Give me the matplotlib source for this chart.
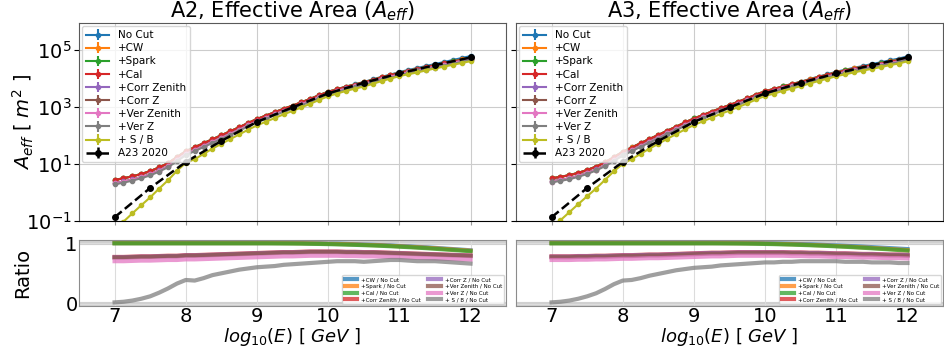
import numpy as np
import matplotlib
matplotlib.use('Agg')
import matplotlib.pyplot as plt

# Data
######

# log10(E / GeV) bins
energy = np.linspace(7.0, 12.0, 41)

# log10 of the No Cut effective area (m^2)
a2_nocut_log = [0.44, 0.50, 0.57, 0.65, 0.75, 0.88, 1.03, 1.24, 1.45, 1.59, 1.73, 1.87, 2.01,
                2.15, 2.29, 2.44, 2.58, 2.70, 2.82, 2.94, 3.05, 3.17, 3.29, 3.42, 3.54, 3.63,
                3.72, 3.80, 3.88, 3.97, 4.06, 4.14, 4.23, 4.30, 4.37, 4.44, 4.51, 4.58, 4.65,
                4.72, 4.79]
a3_nocut_log = [0.50, 0.55, 0.61, 0.69, 0.79, 0.91, 1.06, 1.24, 1.43, 1.58, 1.73, 1.88, 2.02,
                2.17, 2.31, 2.46, 2.60, 2.72, 2.84, 2.96, 3.07, 3.19, 3.31, 3.44, 3.56, 3.64,
                3.73, 3.81, 3.89, 3.98, 4.07, 4.15, 4.24, 4.31, 4.38, 4.44, 4.51, 4.57, 4.64,
                4.70, 4.78]

# A23 2020 reference
a23_energy = [7.0, 7.5, 8.0, 8.5, 9.0, 9.5, 10.0, 10.5, 11.0, 11.5, 12.0]
a23_log = [-0.87, 0.16, 1.07, 1.81, 2.48, 2.99, 3.48, 3.85, 4.18, 4.47, 4.74]

cut_labels = ['+CW', '+Spark', '+Cal', '+Corr Zenith', '+Corr Z', '+Ver Zenith', '+Ver Z', '+ S / B']

# ratios cut / No Cut, panel A2
a2_cw = [1.00, 1.00, 1.00, 1.00, 1.00, 1.00, 1.00, 1.00, 1.00, 1.00, 1.00, 1.00, 1.00, 1.00,
         1.00, 1.00, 1.00, 1.00, 1.00, 1.00, 1.00, 1.00, 0.995, 0.995, 0.99, 0.99, 0.985, 0.98,
         0.975, 0.97, 0.965, 0.96, 0.95, 0.945, 0.935, 0.93, 0.92, 0.91, 0.90, 0.89, 0.88]
a2_spark = [0.998, 0.998, 0.998, 0.998, 0.998, 0.998, 0.998, 0.998, 0.998, 0.998, 0.998, 0.998,
            0.998, 0.998, 0.998, 0.998, 0.998, 0.998, 0.998, 0.997, 0.996, 0.995, 0.993, 0.99,
            0.987, 0.984, 0.98, 0.976, 0.97, 0.965, 0.96, 0.953, 0.945, 0.938, 0.93, 0.922, 0.913,
            0.903, 0.893, 0.883, 0.873]
a2_cal = [0.995, 0.995, 0.995, 0.995, 0.995, 0.995, 0.995, 0.995, 0.995, 0.995, 0.995, 0.995,
          0.995, 0.995, 0.995, 0.995, 0.995, 0.995, 0.994, 0.993, 0.992, 0.99, 0.988, 0.985,
          0.982, 0.978, 0.974, 0.97, 0.965, 0.96, 0.954, 0.947, 0.94, 0.932, 0.924, 0.915, 0.905,
          0.895, 0.885, 0.875, 0.865]
a2_corr_zen = [0.77, 0.77, 0.775, 0.78, 0.78, 0.785, 0.79, 0.79, 0.80, 0.80, 0.805, 0.81, 0.815,
               0.82, 0.825, 0.83, 0.835, 0.84, 0.845, 0.85, 0.85, 0.855, 0.86, 0.86, 0.86, 0.86,
               0.855, 0.855, 0.85, 0.85, 0.845, 0.84, 0.835, 0.83, 0.825, 0.82, 0.815, 0.81,
               0.805, 0.80, 0.795]
a2_corr_z = [0.765, 0.765, 0.77, 0.775, 0.775, 0.78, 0.785, 0.785, 0.795, 0.795, 0.80, 0.805,
             0.81, 0.815, 0.82, 0.825, 0.83, 0.835, 0.84, 0.845, 0.845, 0.85, 0.855, 0.855, 0.855,
             0.855, 0.85, 0.85, 0.845, 0.845, 0.84, 0.835, 0.83, 0.825, 0.82, 0.815, 0.81, 0.805,
             0.80, 0.795, 0.79]
a2_ver_zen = [0.76, 0.76, 0.765, 0.77, 0.77, 0.775, 0.78, 0.78, 0.79, 0.79, 0.795, 0.80, 0.805,
              0.81, 0.815, 0.82, 0.825, 0.83, 0.835, 0.84, 0.84, 0.845, 0.85, 0.85, 0.85, 0.85,
              0.845, 0.845, 0.84, 0.84, 0.835, 0.83, 0.825, 0.82, 0.815, 0.81, 0.805, 0.80,
              0.795, 0.79, 0.785]
a2_ver_z = [0.70, 0.70, 0.705, 0.71, 0.71, 0.715, 0.72, 0.72, 0.73, 0.73, 0.735, 0.74, 0.745,
            0.75, 0.755, 0.76, 0.765, 0.77, 0.775, 0.78, 0.78, 0.785, 0.79, 0.79, 0.79, 0.79,
            0.785, 0.785, 0.78, 0.78, 0.775, 0.77, 0.765, 0.76, 0.755, 0.75, 0.745, 0.74, 0.735,
            0.73, 0.725]
a2_sb = [0.02, 0.03, 0.05, 0.08, 0.12, 0.18, 0.25, 0.33, 0.39, 0.38, 0.42, 0.47, 0.50, 0.53, 0.56,
         0.58, 0.60, 0.61, 0.62, 0.64, 0.65, 0.66, 0.67, 0.68, 0.69, 0.70, 0.70, 0.70, 0.69, 0.70,
         0.71, 0.72, 0.72, 0.71, 0.70, 0.70, 0.70, 0.69, 0.68, 0.67, 0.66]

# ratios cut / No Cut, panel A3
a3_cw = [1.00, 1.00, 1.00, 1.00, 1.00, 1.00, 1.00, 1.00, 1.00, 1.00, 1.00, 1.00, 1.00, 1.00,
         1.00, 1.00, 1.00, 1.00, 1.00, 1.00, 1.00, 1.00, 1.00, 0.998, 0.996, 0.994, 0.99, 0.986,
         0.982, 0.978, 0.972, 0.966, 0.96, 0.954, 0.947, 0.94, 0.932, 0.924, 0.916, 0.908, 0.90]
a3_spark = [0.998, 0.998, 0.998, 0.998, 0.998, 0.998, 0.998, 0.998, 0.998, 0.998, 0.998, 0.998,
            0.998, 0.998, 0.998, 0.998, 0.998, 0.998, 0.998, 0.998, 0.997, 0.996, 0.995, 0.993,
            0.99, 0.987, 0.983, 0.979, 0.974, 0.969, 0.963, 0.957, 0.95, 0.943, 0.935, 0.927,
            0.919, 0.91, 0.901, 0.892, 0.883]
a3_cal = [0.995, 0.995, 0.995, 0.995, 0.995, 0.995, 0.995, 0.995, 0.995, 0.995, 0.995, 0.995,
          0.995, 0.995, 0.995, 0.995, 0.995, 0.995, 0.995, 0.994, 0.993, 0.992, 0.99, 0.988,
          0.985, 0.982, 0.978, 0.974, 0.969, 0.964, 0.958, 0.952, 0.945, 0.938, 0.93, 0.922,
          0.913, 0.904, 0.895, 0.885, 0.875]
a3_corr_zen = [0.78, 0.78, 0.78, 0.785, 0.785, 0.79, 0.79, 0.795, 0.80, 0.80, 0.805, 0.81, 0.81,
               0.815, 0.82, 0.825, 0.83, 0.835, 0.84, 0.84, 0.845, 0.85, 0.85, 0.85, 0.85, 0.85,
               0.85, 0.845, 0.845, 0.84, 0.84, 0.835, 0.83, 0.83, 0.825, 0.82, 0.82, 0.815, 0.81,
               0.81, 0.805]
a3_corr_z = [0.775, 0.775, 0.775, 0.78, 0.78, 0.785, 0.785, 0.79, 0.795, 0.795, 0.80, 0.805,
             0.805, 0.81, 0.815, 0.82, 0.825, 0.83, 0.835, 0.835, 0.84, 0.845, 0.845, 0.845, 0.845,
             0.845, 0.845, 0.84, 0.84, 0.835, 0.835, 0.83, 0.825, 0.825, 0.82, 0.815, 0.815, 0.81,
             0.805, 0.805, 0.80]
a3_ver_zen = [0.765, 0.765, 0.765, 0.77, 0.77, 0.775, 0.775, 0.78, 0.785, 0.785, 0.79, 0.795,
              0.795, 0.80, 0.805, 0.81, 0.815, 0.82, 0.825, 0.825, 0.83, 0.835, 0.835, 0.835,
              0.835, 0.835, 0.835, 0.83, 0.83, 0.825, 0.825, 0.82, 0.815, 0.815, 0.81, 0.805, 0.805,
              0.80, 0.795, 0.795, 0.79]
a3_ver_z = [0.72, 0.72, 0.72, 0.725, 0.725, 0.73, 0.73, 0.735, 0.74, 0.74, 0.745, 0.75, 0.75,
            0.755, 0.76, 0.765, 0.77, 0.775, 0.78, 0.78, 0.785, 0.79, 0.79, 0.79, 0.79, 0.79, 0.79,
            0.785, 0.785, 0.78, 0.78, 0.775, 0.77, 0.77, 0.765, 0.76, 0.76, 0.755, 0.75, 0.75,
            0.745]
a3_sb = [0.02, 0.03, 0.05, 0.08, 0.12, 0.17, 0.24, 0.32, 0.38, 0.39, 0.42, 0.46, 0.49, 0.52, 0.55,
         0.57, 0.59, 0.60, 0.61, 0.63, 0.64, 0.65, 0.66, 0.67, 0.68, 0.68, 0.69, 0.69, 0.70, 0.70,
         0.70, 0.70, 0.70, 0.69, 0.69, 0.69, 0.68, 0.68, 0.68, 0.67, 0.67]

panels = [
    ('A2', a2_nocut_log, [a2_cw, a2_spark, a2_cal, a2_corr_zen, a2_corr_z, a2_ver_zen, a2_ver_z, a2_sb]),
    ('A3', a3_nocut_log, [a3_cw, a3_spark, a3_cal, a3_corr_zen, a3_corr_z, a3_ver_zen, a3_ver_z, a3_sb]),
]

# Figure
########

fig = plt.figure(figsize=(9.45, 3.5), dpi=100)
lefts = [0.0836, 0.546]

for i, (name, nocut_log, ratios) in enumerate(panels):
    ax = fig.add_axes([lefts[i], 0.3686, 0.452, 0.566])
    axr = fig.add_axes([lefts[i], 0.1257, 0.452, 0.1886])

    nocut = 10 ** np.array(nocut_log)
    zero = np.zeros_like(energy)

    # top : effective area
    ax.errorbar(energy, nocut, yerr=zero, color='C0', marker='o', ms=3, lw=1.5, label='No Cut')
    for j, (lab, r) in enumerate(zip(cut_labels, ratios)):
        ax.errorbar(energy, nocut * np.array(r), yerr=zero, color=f'C{j+1}', marker='o', ms=3,
                    lw=1.5, label=lab)
    ax.errorbar(a23_energy, 10 ** np.array(a23_log), yerr=np.zeros(len(a23_energy)), color='k',
                ls='--', marker='o', ms=4, lw=1.8, label='A23 2020')

    ax.set_yscale('log')
    ax.set_ylim(1e-1, 9e5)
    ax.set_xlim(6.5, 12.5)
    ax.set_yticks([1e-1, 1e1, 1e3, 1e5])
    ax.minorticks_off()
    ax.set_xticks(range(7, 13))
    ax.tick_params(labelbottom=False, labelsize=14, pad=2)
    ax.tick_params(axis='x', length=3, color='0.6')
    ax.grid(color='#cccccc', lw=0.8)
    for s in ['left', 'top', 'right']:
        ax.spines[s].set_color('0.35')
    ax.set_title(f'{name}, Effective Area ($A_{{eff}}$)', fontsize=15, pad=3)
    ax.legend(loc='upper left', fontsize=7.5, handlelength=2.2, labelspacing=0.3,
              borderaxespad=0.3)

    # bottom : ratios
    axr.axhline(1, color='#d0d0d0', lw=3, zorder=0)
    axr.axhline(0, color='#d0d0d0', lw=3, zorder=0)
    for j, (lab, r) in enumerate(zip(cut_labels, ratios)):
        axr.plot(energy, r, color=f'C{j}', lw=3, alpha=0.75, label=f'{lab} / No Cut')
    axr.set_xlim(6.5, 12.5)
    axr.set_ylim(-0.04, 1.05)
    axr.set_yticks([0, 1])
    axr.set_xticks(range(7, 13))
    axr.tick_params(labelsize=14, length=0, pad=1)
    axr.grid(color='#dcdcdc', lw=0.8)
    for s in axr.spines.values():
        s.set_color('0.55')
    axr.set_xlabel('$log_{10}(E)$ [ $GeV$ ]', fontsize=13)
    axr.xaxis.set_label_coords(0.5, -0.31)
    axr.legend(loc='lower right', ncol=2, fontsize=4.0, handlelength=2.2, columnspacing=1.3,
               labelspacing=0.3, borderaxespad=0.3)

    if i == 0:
        ax.set_ylabel('$A_{eff}$ [ $m^2$ ]', fontsize=14)
        ax.yaxis.set_label_coords(-0.1, 0.5)
        axr.set_ylabel('Ratio', fontsize=14)
        axr.yaxis.set_label_coords(-0.11, 0.5)
    else:
        ax.tick_params(labelleft=False)
        axr.tick_params(labelleft=False)

fig.savefig('out.png', dpi=100)
